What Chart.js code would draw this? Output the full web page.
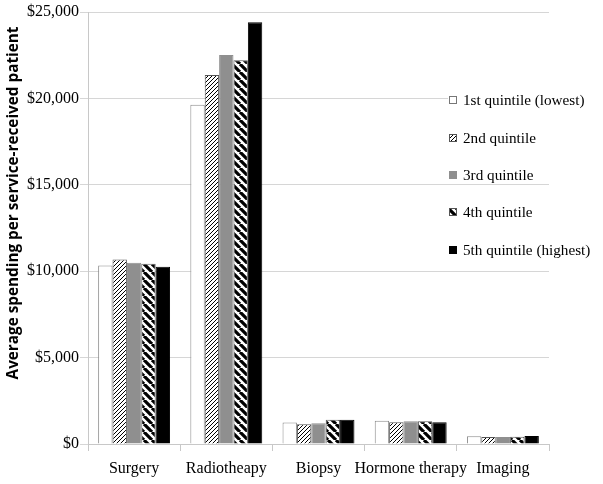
<!DOCTYPE html>
<html>
<head>
<meta charset="utf-8">
<script src="https://cdn.jsdelivr.net/npm/chart.js@4"></script>
<style>
    html, body { margin: 0; padding: 0; background: #fff; }
    #wrap { width: 603px; height: 484px; position: relative; }
</style>
</head>
<body>
<div id="wrap"><canvas id="chart"></canvas></div>
<script>
// Data
const categories = ['Surgery', 'Radiotheapy', 'Biopsy', 'Hormone therapy', 'Imaging'];
const seriesLabels = ['1st quintile (lowest)', '2nd quintile', '3rd quintile', '4th quintile', '5th quintile (highest)'];
const q1 = [10330, 19630, 1250, 1345, 445];
const q2 = [10680, 21360, 1140, 1255, 405];
const q3 = [10490, 22510, 1195, 1310, 405];
const q4 = [10430, 22210, 1400, 1310, 420];
const q5 = [10260, 24400, 1400, 1255, 460];
const yTicks = [0, 5000, 10000, 15000, 20000, 25000];

// Patterns for the hatched bars
function makePattern(size, draw) {
    const c = document.createElement('canvas');
    c.width = size;
    c.height = size;
    const g = c.getContext('2d');
    g.fillStyle = '#fff';
    g.fillRect(0, 0, size, size);
    draw(g, size);
    return document.getElementById('chart').getContext('2d').createPattern(c, 'repeat');
}
// thin "/" lines
const thinHatch = makePattern(4, function(g, n) {
    g.strokeStyle = '#000';
    g.lineWidth = 1;
    g.beginPath();
    for (let k = -1; k <= 1; k++) {
        g.moveTo(k * n, n);
        g.lineTo(k * n + n, 0);
    }
    g.stroke();
});
// thick "\" stripes
const thickHatch = makePattern(8, function(g, n) {
    g.strokeStyle = '#000';
    g.lineWidth = 3.2;
    g.beginPath();
    for (let k = -1; k <= 1; k++) {
        g.moveTo(k * n, 0);
        g.lineTo(k * n + n, n);
    }
    g.stroke();
});

const fills = ['#ffffff', thinHatch, '#8f8f8f', thickHatch, '#000000'];
const borders = ['#8a8a8a', '#555555', '#8f8f8f', '#555555', '#000000'];
const values = [q1, q2, q3, q4, q5];

const datasets = values.map((v, i) => ({
    label: seriesLabels[i],
    data: v,
    backgroundColor: fills[i],
    borderColor: borders[i],
    borderWidth: 1,
    barPercentage: 1.0,
    categoryPercentage: 0.78
}));

// Legend inside the plot on the right, plus rotated axis title
const extras = {
    id: 'extras',
    afterDraw(chart) {
        const ctx = chart.ctx;
        ctx.save();
        ctx.font = '15.2px "Liberation Serif", "Times New Roman", serif';
        ctx.textBaseline = 'middle';
        ctx.textAlign = 'left';
        const ys = [100, 138, 175, 212, 250];
        ys.forEach((y, i) => {
            const w = ctx.measureText(seriesLabels[i]).width;
            ctx.fillStyle = '#fff';
            ctx.fillRect(448, y - 8, w + 18, 16);
            ctx.fillStyle = fills[i];
            ctx.fillRect(449.5, y - 3.5, 7, 7);
            ctx.strokeStyle = i === 0 ? '#777' : borders[i];
            ctx.lineWidth = 1;
            ctx.strokeRect(449.5, y - 3.5, 7, 7);
            ctx.fillStyle = '#000';
            ctx.fillText(seriesLabels[i], 463, y + 1);
        });
        ctx.translate(14, 203);
        ctx.rotate(-Math.PI / 2);
        ctx.textAlign = 'center';
        ctx.font = 'bold 15.3px "Open Sans", sans-serif';
        ctx.fillText('Average spending per service-received patient', 0, 0);
        ctx.restore();
    }
};

new Chart(document.getElementById('chart'), {
    type: 'bar',
    data: { labels: categories, datasets: datasets },
    options: {
        responsive: true,
        maintainAspectRatio: false,
        animation: false,
        layout: { padding: { top: 12, right: 54, left: 0, bottom: 0 } },
        plugins: {
            legend: { display: false },
            tooltip: { enabled: false }
        },
        scales: {
            x: {
                afterFit: s => { s.height = 40; },
                grid: { drawOnChartArea: false, offset: true, tickLength: 7, color: '#c8c8c8' },
                border: { color: '#c8c8c8' },
                ticks: {
                    color: '#000',
                    padding: 8,
                    maxRotation: 0,
                    minRotation: 0,
                    autoSkip: false,
                    font: { family: '"Liberation Serif", "Times New Roman", serif', size: 16 }
                }
            },
            y: {
                min: 0,
                max: 25000,
                afterFit: s => { s.width = 88; },
                afterBuildTicks: s => { s.ticks = yTicks.map(v => ({ value: v })); },
                grid: { color: '#d6d6d6', tickLength: 8 },
                border: { color: '#c8c8c8' },
                ticks: {
                    color: '#000',
                    padding: 1,
                    font: { family: '"Liberation Serif", "Times New Roman", serif', size: 16 },
                    callback: v => '$' + v.toLocaleString('en-US')
                }
            }
        }
    },
    plugins: [extras]
});
</script>
</body>
</html>
